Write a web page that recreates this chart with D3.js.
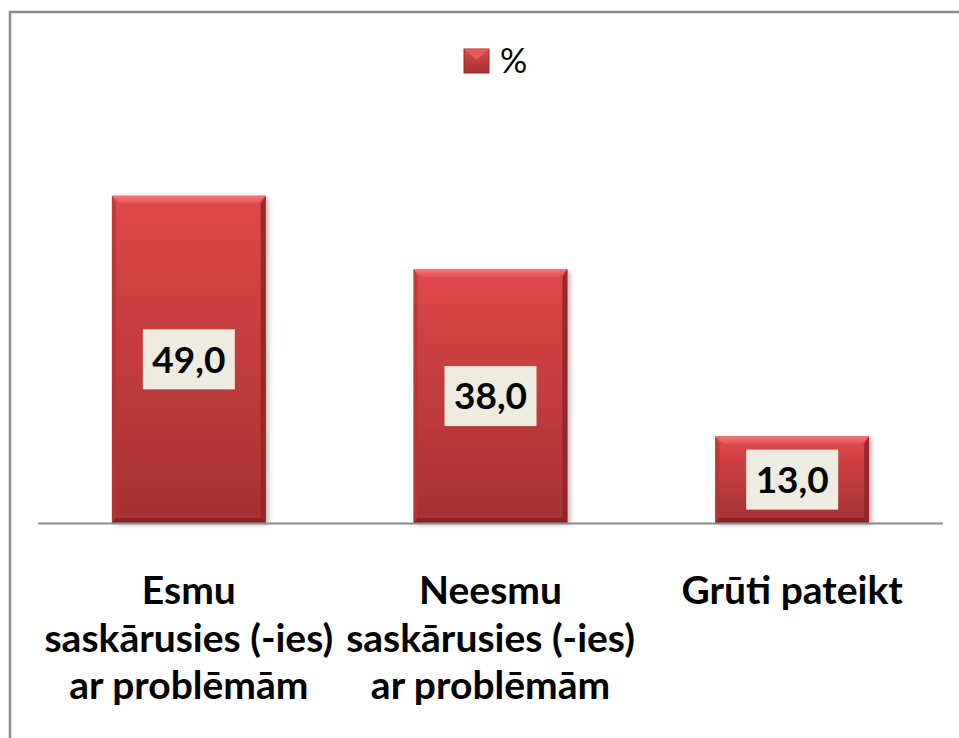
<!DOCTYPE html>
<html>
<head>
<meta charset="utf-8">
<script src="https://cdn.jsdelivr.net/npm/d3@7"></script>
<style>
  body { margin: 0; background: #fff; }
  svg { display: block; }
</style>
</head>
<body>
<svg></svg>
<script>
const categories = [
    ["Esmu", "saskārusies (-ies)", "ar problēmām"],
    ["Neesmu", "saskārusies (-ies)", "ar problēmām"],
    ["Grūti pateikt"]
];
const values = [49.0, 38.0, 13.0];
const seriesName = "%";

const [width, height] = [959, 738];
const margin = { top: 189, right: 16, bottom: 215, left: 38 };

const svg = d3.select("svg")
    .attr("width", width)
    .attr("height", height);

const defs = svg.append("defs");

const grad = defs.append("linearGradient")
    .attr("id", "barFill")
    .attr("x1", 0).attr("y1", 0).attr("x2", 0).attr("y2", 1);
grad.append("stop").attr("offset", "0%").attr("stop-color", "#e04848");
grad.append("stop").attr("offset", "100%").attr("stop-color", "#a53131");

const topGrad = defs.append("linearGradient")
    .attr("id", "topBevel")
    .attr("x1", 0).attr("y1", 0).attr("x2", 0).attr("y2", 1);
topGrad.append("stop").attr("offset", "0%").attr("stop-color", "#f47a7a");
topGrad.append("stop").attr("offset", "100%").attr("stop-color", "#e25050");

const shadow = defs.append("filter")
    .attr("id", "shadow")
    .attr("x", "-10%").attr("y", "-10%").attr("width", "130%").attr("height", "130%");
shadow.append("feDropShadow")
    .attr("dx", 3).attr("dy", 2).attr("stdDeviation", 2)
    .attr("flood-color", "#000").attr("flood-opacity", 0.25);

// chart frame
svg.append("rect")
    .attr("x", 10).attr("y", 12)
    .attr("width", width + 20).attr("height", height + 20)
    .attr("fill", "none")
    .attr("stroke", "#8a8a8a")
    .attr("stroke-width", 2.5);

const x = d3.scaleBand()
    .domain(d3.range(values.length))
    .range([margin.left, width - margin.right])
    .paddingInner(0.49)
    .paddingOuter(0.245);

const y = d3.scaleLinear()
    .domain([0, 50])
    .range([height - margin.bottom, margin.top]);

const bars = svg.append("g")
    .selectAll("g")
    .data(values)
    .join("g");

bars.append("rect")
    .attr("x", (d, i) => x(i))
    .attr("y", d => y(d))
    .attr("width", x.bandwidth())
    .attr("height", d => y(0) - y(d))
    .attr("fill", "url(#barFill)")
    .attr("filter", "url(#shadow)");

const bv = 8;
// top bevel
bars.append("path")
    .attr("fill", "url(#topBevel)")
    .attr("d", (d, i) => {
        const x0 = x(i), x1 = x(i) + x.bandwidth(), y0 = y(d);
        return `M${x0},${y0}L${x1},${y0}L${x1 - bv},${y0 + bv}L${x0 + bv},${y0 + bv}Z`;
    });
// right bevel
bars.append("path")
    .attr("fill", "#8e2626")
    .attr("opacity", 0.85)
    .attr("d", (d, i) => {
        const x1 = x(i) + x.bandwidth(), y0 = y(d), y1 = y(0);
        return `M${x1},${y0}L${x1},${y1}L${x1 - 5},${y1 - 5}L${x1 - 5},${y0 + bv}Z`;
    });
// left bevel
bars.append("path")
    .attr("fill", "#b83535")
    .attr("opacity", 0.8)
    .attr("d", (d, i) => {
        const x0 = x(i), y0 = y(d), y1 = y(0);
        return `M${x0},${y0}L${x0 + 4},${y0 + bv}L${x0 + 4},${y1 - 5}L${x0},${y1}Z`;
    });
// bottom bevel
bars.append("path")
    .attr("fill", "#7c2020")
    .attr("opacity", 0.75)
    .attr("d", (d, i) => {
        const x0 = x(i), x1 = x(i) + x.bandwidth(), y1 = y(0);
        return `M${x0},${y1}L${x1},${y1}L${x1 - 5},${y1 - 5}L${x0 + 4},${y1 - 5}Z`;
    });

// axis line
svg.append("line")
    .attr("x1", margin.left).attr("x2", width - margin.right)
    .attr("y1", y(0) + 0.5).attr("y2", y(0) + 0.5)
    .attr("stroke", "#8c8c8c")
    .attr("stroke-width", 2);

// value labels
const fmt = v => d3.format(".1f")(v).replace(".", ",");
const boxW = 92, boxH = 60;
const labels = bars.append("g")
    .attr("transform", (d, i) => `translate(${x(i) + x.bandwidth() / 2},${(y(d) + y(0)) / 2})`);
labels.append("rect")
    .attr("x", -boxW / 2).attr("y", -boxH / 2)
    .attr("width", boxW).attr("height", boxH)
    .attr("fill", "#eeebe0");
labels.append("text")
    .attr("text-anchor", "middle")
    .attr("dy", "0.36em")
    .attr("font-family", "Lato, 'Open Sans', sans-serif")
    .attr("font-weight", "bold")
    .attr("font-size", 37)
    .attr("fill", "#000")
    .text(d => fmt(d));

// category labels
const catG = svg.append("g")
    .attr("font-family", "Lato, 'Open Sans', sans-serif")
    .attr("font-weight", "bold")
    .attr("font-size", 39)
    .attr("fill", "#000")
    .attr("text-anchor", "middle");
categories.forEach((lines, i) => {
    const t = catG.append("text")
        .attr("x", x(i) + x.bandwidth() / 2)
        .attr("y", 604);
    lines.forEach((ln, j) => {
        t.append("tspan")
            .attr("x", x(i) + x.bandwidth() / 2)
            .attr("y", 604 + j * 47.5)
            .text(ln);
    });
});

// legend
const legend = svg.append("g").attr("transform", "translate(464,49)");
legend.append("rect")
    .attr("width", 25).attr("height", 24)
    .attr("fill", "url(#barFill)")
    .attr("stroke", "#9a2c2c")
    .attr("stroke-width", 1);
legend.append("path")
    .attr("d", "M0,0L25,0L12.5,11Z")
    .attr("fill", "#f06a6a")
    .attr("opacity", 0.6);
legend.append("text")
    .attr("x", 36).attr("y", 24)
    .attr("font-family", "Lato, 'Open Sans', sans-serif")
    .attr("font-size", 34)
    .attr("fill", "#000")
    .text(seriesName);
</script>
</body>
</html>
